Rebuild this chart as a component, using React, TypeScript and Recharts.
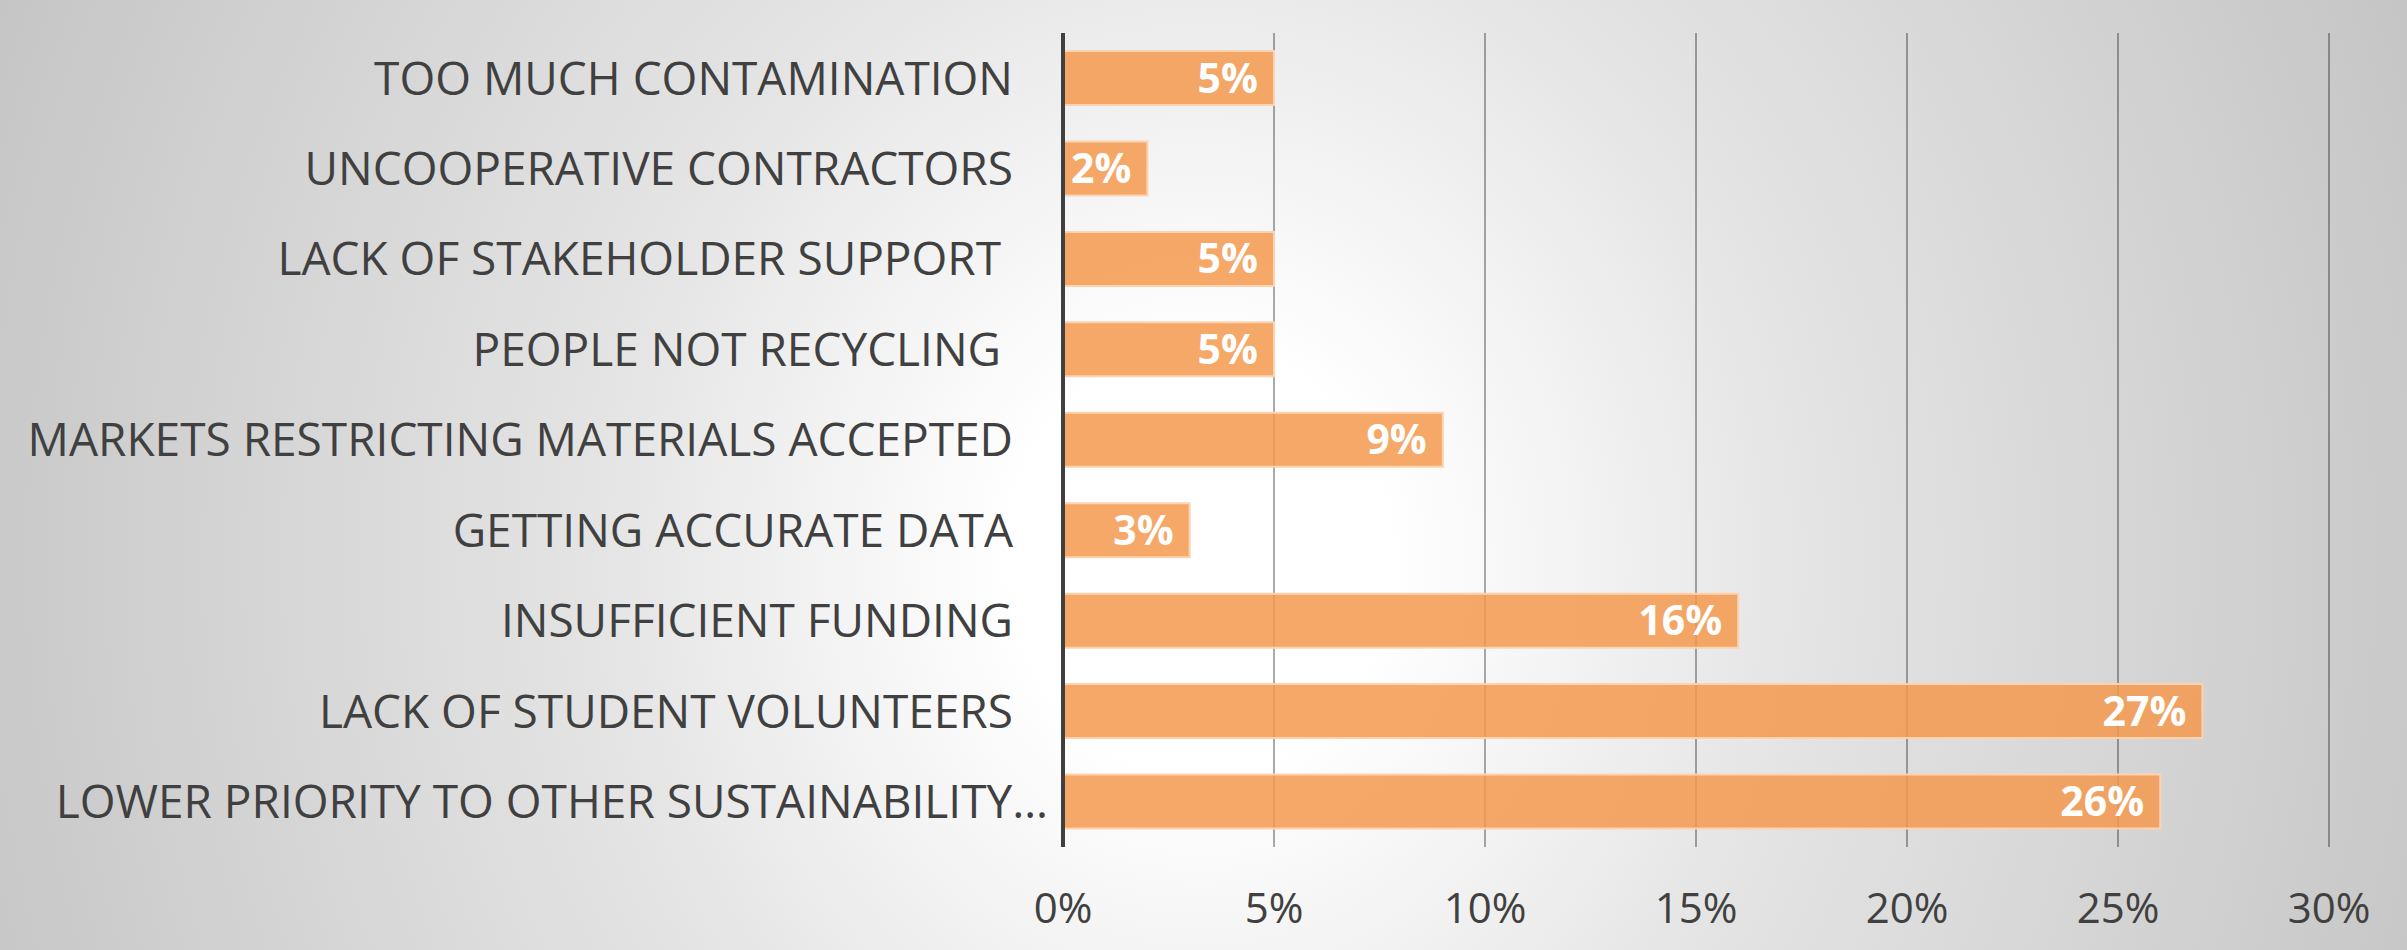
import { BarChart, Bar, XAxis, YAxis, CartesianGrid, LabelList } from "recharts";

const categories = [
  "TOO MUCH CONTAMINATION",
  "UNCOOPERATIVE CONTRACTORS",
  "LACK OF STAKEHOLDER SUPPORT ",
  "PEOPLE NOT RECYCLING ",
  "MARKETS RESTRICTING MATERIALS ACCEPTED",
  "GETTING ACCURATE DATA",
  "INSUFFICIENT FUNDING",
  "LACK OF STUDENT VOLUNTEERS",
  "LOWER PRIORITY TO OTHER SUSTAINABILITY…",
];
const values = [5, 2, 5, 5, 9, 3, 16, 27, 26];
const xTicks = [0, 5, 10, 15, 20, 25, 30];

const data = categories.map((name, i) => ({ name, value: values[i] }));

const FONT = "'Open Sans', sans-serif";

function CatTick(props: any) {
  const { x, y, payload } = props;
  const label: string = payload.value;
  // truncated label sits closer to the axis, like in the original
  const shift = label.endsWith("…") ? 35 : 0;
  return (
    <text
      x={x + shift}
      y={y}
      dy="0.355em"
      textAnchor="end"
      fill="#404040"
      fontSize={46}
      fontFamily={FONT}
      style={{ whiteSpace: "pre" }}
    >
      {label}
    </text>
  );
}

export default function App() {
  return (
    <div
      style={{
        position: "absolute",
        left: 0,
        top: 0,
        width: 2407,
        height: 950,
        background: "radial-gradient(ellipse 1350px 1500px at 1200px 560px, #ffffff 0%, #ffffff 14%, #e4e4e4 45%, #c3c3c3 100%)",
      }}
    >
      <BarChart
        layout="vertical"
        width={2407}
        height={950}
        data={data}
        margin={{ top: 33, right: 78, bottom: 0, left: 0 }}
      >
        <CartesianGrid horizontal={false} stroke="rgba(0,0,0,0.33)" strokeWidth={2} />
        <XAxis
          type="number"
          domain={[0, 30]}
          ticks={xTicks}
          tickFormatter={(v: number) => `${v}%`}
          axisLine={false}
          tickLine={false}
          tickSize={0}
          tickMargin={46}
          height={103}
          tick={{ fill: "#404040", fontSize: 42, fontFamily: FONT }}
        />
        <YAxis
          type="category"
          dataKey="name"
          width={1063}
          interval={0}
          axisLine={{ stroke: "#404040", strokeWidth: 4 }}
          tickLine={false}
          tickSize={0}
          tickMargin={50}
          tick={<CatTick />}
        />
        <Bar
          dataKey="value"
          barSize={54}
          fill="#F5994D"
          fillOpacity={0.85}
          stroke="#FBD3B0"
          strokeWidth={2}
          isAnimationActive={false}
        >
          <LabelList
            dataKey="value"
            position="insideRight"
            offset={16}
            formatter={(v: any) => `${v}%`}
            fill="#ffffff"
            fontSize={41}
            fontWeight="bold"
            fontFamily={FONT}
          />
        </Bar>
      </BarChart>
    </div>
  );
}
